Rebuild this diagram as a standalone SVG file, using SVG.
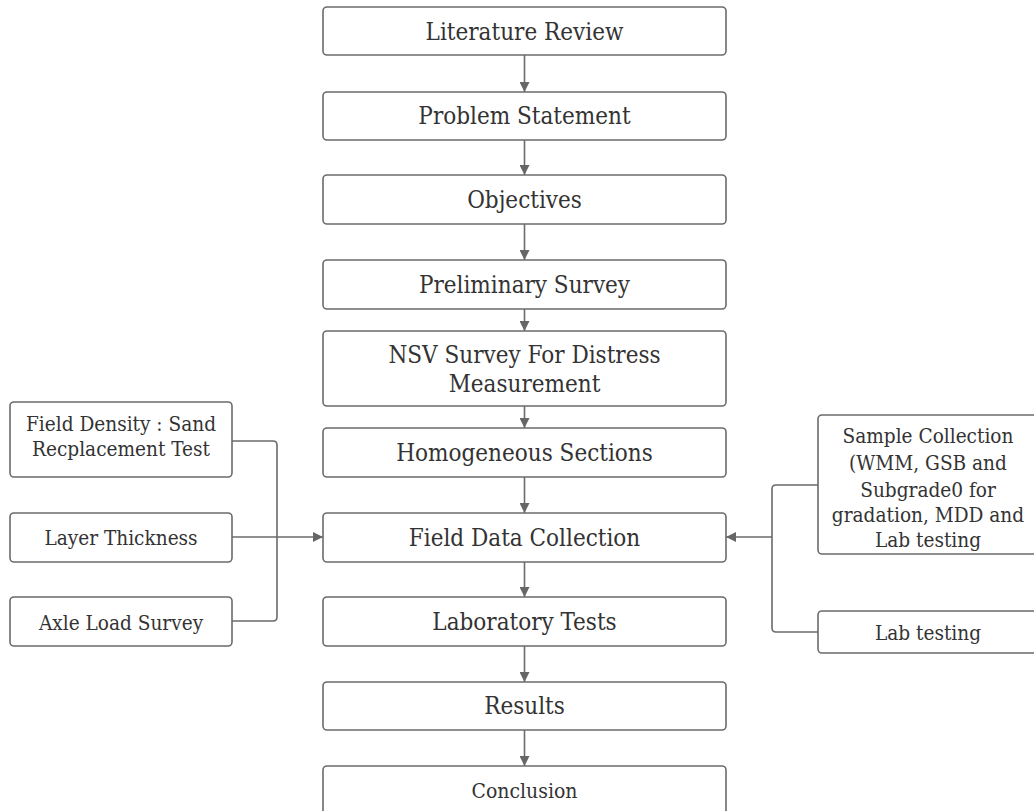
<svg xmlns="http://www.w3.org/2000/svg" width="1034" height="811" viewBox="0 0 1034 811">
<defs>
<marker id="arr" viewBox="0 0 10 10" refX="10" refY="5" markerWidth="10" markerHeight="10" markerUnits="userSpaceOnUse" orient="auto">
<path d="M0,0 L10,5 L0,10 Z" fill="#666"/>
</marker>
<style>
.box{fill:#fff;stroke:#6b6b6b;stroke-width:1.6}
.t{font-family:"DejaVu Serif Condensed","DejaVu Serif","Liberation Serif",serif;font-stretch:condensed;fill:#333;text-anchor:middle;font-size:24px}
.s{font-size:20.6px}
.c{fill:none;stroke:#6b6b6b;stroke-width:1.6}
</style>
</defs>
<rect width="1034" height="811" fill="#fff"/>
<g id="connectors">
<path class="c" d="M524.5,55 V92" marker-end="url(#arr)"/>
<path class="c" d="M524.5,140 V175" marker-end="url(#arr)"/>
<path class="c" d="M524.5,224 V260" marker-end="url(#arr)"/>
<path class="c" d="M524.5,309 V331" marker-end="url(#arr)"/>
<path class="c" d="M524.5,406 V428" marker-end="url(#arr)"/>
<path class="c" d="M524.5,477 V513" marker-end="url(#arr)"/>
<path class="c" d="M524.5,562 V597" marker-end="url(#arr)"/>
<path class="c" d="M524.5,646 V682" marker-end="url(#arr)"/>
<path class="c" d="M524.5,730 V766" marker-end="url(#arr)"/>
<path class="c" d="M232,441 H273 Q277,441 277,445 V617 Q277,621 273,621 H232"/>
<path class="c" d="M232,537 H323" marker-end="url(#arr)"/>
<path class="c" d="M818,485 H776 Q772,485 772,489 V628 Q772,632 776,632 H818"/>
<path class="c" d="M772,537 H726" marker-end="url(#arr)"/>
</g>
<g id="n1"><rect class="box" x="323" y="7" width="403" height="48" rx="4"/><text class="t" x="524.5" y="40">Literature Review</text></g>
<g id="n2"><rect class="box" x="323" y="92" width="403" height="48" rx="4"/><text class="t" x="524.5" y="124">Problem Statement</text></g>
<g id="n3"><rect class="box" x="323" y="175" width="403" height="49" rx="4"/><text class="t" x="524.5" y="208">Objectives</text></g>
<g id="n4"><rect class="box" x="323" y="260" width="403" height="49" rx="4"/><text class="t" x="524.5" y="293">Preliminary Survey</text></g>
<g id="n5"><rect class="box" x="323" y="331" width="403" height="75" rx="4"/><text class="t" x="524.5" y="363">NSV Survey For Distress</text><text class="t" x="524.5" y="392">Measurement</text></g>
<g id="n6"><rect class="box" x="323" y="428" width="403" height="49" rx="4"/><text class="t" x="524.5" y="461">Homogeneous Sections</text></g>
<g id="n7"><rect class="box" x="323" y="513" width="403" height="49" rx="4"/><text class="t" x="524.5" y="546">Field Data Collection</text></g>
<g id="n8"><rect class="box" x="323" y="597" width="403" height="49" rx="4"/><text class="t" x="524.5" y="630">Laboratory Tests</text></g>
<g id="n9"><rect class="box" x="323" y="682" width="403" height="48" rx="4"/><text class="t" x="524.5" y="714">Results</text></g>
<g id="n10"><rect class="box" x="323" y="766" width="403" height="60" rx="4"/><text class="t" style="font-size:21px" x="524.5" y="798">Conclusion</text></g>
<g id="l1"><rect class="box" x="10" y="402" width="222" height="75" rx="4"/><text class="t s" x="121" y="431">Field Density : Sand</text><text class="t s" x="121" y="456">Recplacement Test</text></g>
<g id="l2"><rect class="box" x="10" y="513" width="222" height="49" rx="4"/><text class="t s" x="121" y="545">Layer Thickness</text></g>
<g id="l3"><rect class="box" x="10" y="597" width="222" height="49" rx="4"/><text class="t s" x="121" y="630">Axle Load Survey</text></g>
<g id="r1"><rect class="box" x="818" y="415" width="222" height="139" rx="4"/><text class="t s" x="928" y="443">Sample Collection</text><text class="t s" x="928" y="470">(WMM, GSB and</text><text class="t s" x="928" y="497">Subgrade0 for</text><text class="t s" x="928" y="522">gradation, MDD and</text><text class="t s" x="928" y="547">Lab testing</text></g>
<g id="r2"><rect class="box" x="818" y="611" width="222" height="42" rx="4"/><text class="t s" x="928" y="640">Lab testing</text></g>
</svg>
